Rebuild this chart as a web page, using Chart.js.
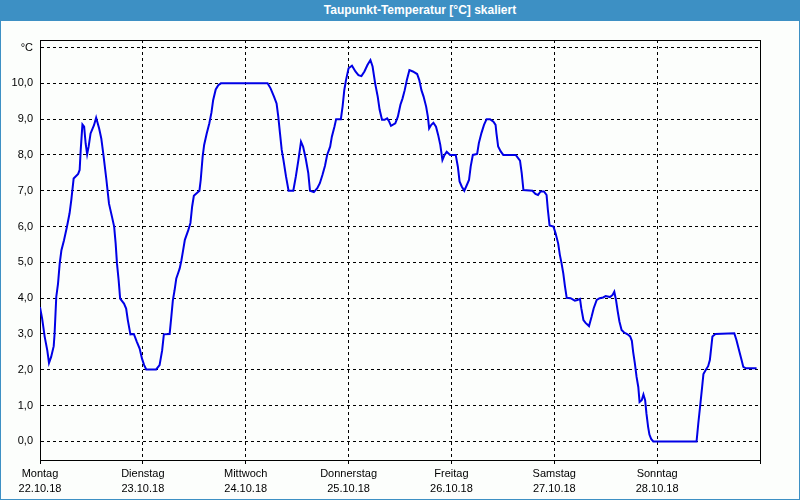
<!DOCTYPE html>
<html>
<head>
<meta charset="utf-8">
<script src="https://cdn.jsdelivr.net/npm/chart.js"></script>
<style>
  body { margin: 0; background: #fcfefc; }
  #wrap { position: relative; width: 800px; height: 500px; }
  #title {
    position: absolute; left: 0; top: 0; width: 760px; height: 21px; padding-left: 40px;
    background: #3d90c4; color: #fff; text-align: center;
    font: bold 12px "Liberation Sans", Arial, sans-serif; line-height: 21px;
  }
  #frame {
    position: absolute; left: 0; top: 0; width: 800px; height: 500px;
    box-sizing: border-box; border: 1px solid #3d90c4; border-top: none; pointer-events: none;
  }
</style>
</head>
<body>
<div id="wrap">
  <canvas id="taupunkt" width="800" height="500"></canvas>
  <div id="title">Taupunkt-Temperatur [°C] skaliert</div>
  <div id="frame"></div>
</div>
<script>
// Stunden seit Montag 00:00
const hours = [
  0, 0.5, 1.1, 1.7, 2.1, 2.6, 3.2, 3.4, 3.8, 4.2, 4.6, 5.0, 5.6, 6.3, 6.9, 7.3, 7.85, 8.9, 9.25, 9.5,
  9.9, 10.3, 10.65, 11.0, 11.35, 11.8, 12.6, 13.1, 13.8, 14.3, 14.8, 15.5, 16.1, 16.8, 17.3, 17.65, 17.96, 18.35, 18.7, 19.6,
  20.1, 20.5, 21.1, 21.9, 22.6, 23.25, 23.8, 24.3, 24.8, 27.1, 27.9, 28.5, 28.9, 30.25, 30.6, 31.0, 31.4, 31.8, 32.2, 32.6,
  33.0, 33.4, 33.8, 34.6, 35.1, 35.5, 35.9, 37.2, 37.5, 37.95, 38.3, 38.9, 39.5, 40.0, 40.4, 41.0, 41.6, 42.2, 53.1, 53.8,
  54.6, 55.2, 55.6, 56.0, 56.4, 56.8, 57.4, 58.0, 59.1, 59.7, 60.3, 60.9, 61.4, 62.0, 62.6, 63.0, 63.9, 64.7, 65.3, 65.9,
  66.5, 67.0, 67.7, 68.1, 68.7, 69.1, 70.2, 70.6, 71.0, 71.4, 72.0, 72.8, 73.6, 74.3, 75.0, 75.7, 76.4, 77.1, 77.6, 78.2,
  78.8, 79.25, 79.8, 80.4, 81.0, 81.4, 81.9, 82.9, 83.5, 84.1, 84.6, 85.1, 85.6, 86.2, 87.0, 88.0, 88.5, 89.0, 89.5, 90.1,
  90.5, 90.8, 91.3, 91.8, 92.4, 92.9, 93.4, 93.9, 94.4, 94.9, 95.7, 97.0, 97.5, 97.9, 98.4, 99.0, 99.6, 100.1, 100.5, 101.0,
  102.0, 102.4, 103.0, 103.6, 104.2, 105.0, 105.8, 106.3, 106.5, 106.9, 107.5, 108.1, 111.0, 112.0, 112.4, 112.8, 114.9, 115.6, 116.2, 116.8,
  117.6, 118.2, 118.5, 118.9, 119.8, 120.3, 120.9, 121.3, 121.7, 122.1, 122.5, 122.9, 123.8, 124.8, 125.4, 126.0, 126.3, 126.8, 127.3, 128.1,
  128.7, 129.2, 129.9, 130.6, 131.4, 132.0, 133.0, 133.6, 134.0, 134.4, 134.8, 135.2, 135.7, 136.3, 137.1, 137.7, 138.1, 138.4, 138.8, 139.2,
  139.6, 139.9, 140.4, 140.8, 141.2, 141.5, 141.9, 142.2, 142.6, 143.1, 153.2, 153.6, 154.1, 154.5, 154.8, 155.4, 155.9, 156.3, 156.6, 156.9,
  157.6, 162.0, 162.5, 163.2, 163.7, 164.1, 164.7, 167.2
];
const taupunkt = [
  3.75, 3.43, 2.92, 2.54, 2.19, 2.36, 2.66, 3.0, 4.04, 4.4, 4.97, 5.34, 5.62, 6.0, 6.37, 6.74, 7.34, 7.47, 7.58, 8.14,
  8.85, 8.79, 8.32, 8.02, 8.23, 8.6, 8.83, 9.04, 8.74, 8.46, 8.0, 7.3, 6.64, 6.27, 6.0, 5.53, 4.97, 4.5, 3.99, 3.85,
  3.71, 3.38, 2.99, 3.0, 2.78, 2.59, 2.31, 2.13, 2.01, 2.01, 2.13, 2.54, 2.99, 3.0, 3.43, 3.94, 4.22, 4.55, 4.69, 4.83,
  5.06, 5.34, 5.63, 5.9, 6.1, 6.56, 6.86, 7.0, 7.3, 7.95, 8.28, 8.6, 8.88, 9.18, 9.53, 9.83, 9.95, 10.0, 10.0, 9.86,
  9.63, 9.44, 9.07, 8.6, 8.14, 7.86, 7.4, 7.0, 7.0, 7.4, 7.86, 8.37, 8.23, 7.9, 7.49, 7.0, 6.96, 7.07, 7.21, 7.44,
  7.7, 8.0, 8.23, 8.51, 8.79, 9.0, 9.0, 9.35, 9.81, 10.09, 10.42, 10.49, 10.33, 10.23, 10.2, 10.33, 10.51, 10.65, 10.47, 10.0,
  9.63, 9.26, 8.98, 8.98, 9.02, 8.95, 8.81, 8.88, 9.07, 9.4, 9.58, 9.81, 10.09, 10.37, 10.33, 10.26, 10.09, 9.81, 9.63, 9.35,
  9.07, 8.74, 8.84, 8.9, 8.79, 8.56, 8.28, 7.86, 8.0, 8.09, 8.0, 8.0, 7.67, 7.26, 7.12, 7.0, 7.16, 7.3, 7.68, 8.0,
  8.03, 8.33, 8.61, 8.84, 9.0, 9.0, 8.93, 8.84, 8.61, 8.24, 8.1, 8.0, 8.0, 7.84, 7.49, 7.02, 7.0, 6.91, 6.88, 6.98,
  6.98, 6.88, 6.47, 6.03, 6.0, 5.81, 5.53, 5.21, 4.97, 4.69, 4.32, 4.01, 4.0, 3.93, 3.95, 3.98, 3.72, 3.39, 3.31, 3.22,
  3.48, 3.72, 3.95, 4.0, 4.02, 4.06, 4.03, 4.09, 4.18, 3.95, 3.63, 3.35, 3.11, 3.04, 2.99, 2.93, 2.81, 2.5, 2.18, 1.8,
  1.52, 1.1, 1.15, 1.31, 1.15, 0.78, 0.4, 0.19, 0.07, 0.0, 0.0, 0.5, 1.06, 1.52, 1.88, 2.01, 2.1, 2.27, 2.6, 2.93,
  3.0, 3.02, 2.83, 2.5, 2.27, 2.08, 2.04, 2.04
];
const dayNames = ["Montag", "Dienstag", "Mittwoch", "Donnerstag", "Freitag", "Samstag", "Sonntag"];
const dates = ["22.10.18", "23.10.18", "24.10.18", "25.10.18", "26.10.18", "27.10.18", "28.10.18"];
const yTicks = [0, 1, 2, 3, 4, 5, 6, 7, 8, 9, 10, 11];

// Rahmen oben und rechts
const frame = {
  id: "frame",
  beforeDatasetsDraw(chart) {
    const a = chart.chartArea, ctx = chart.ctx;
    ctx.save();
    ctx.strokeStyle = "#000";
    ctx.lineWidth = 1;
    ctx.strokeRect(a.left + 0.5, a.top + 0.5, a.right - a.left, a.bottom - a.top);
    ctx.restore();
  }
};

const font = { family: "'Liberation Sans', Arial, sans-serif", size: 11 };

new Chart(document.getElementById("taupunkt"), {
  type: "line",
  data: {
    datasets: [{
      data: hours.map((h, i) => ({ x: h, y: taupunkt[i] })),
      borderColor: "#0000e6",
      borderWidth: 2,
      pointRadius: 0,
      tension: 0,
      fill: false
    }]
  },
  options: {
    responsive: false,
    animation: false,
    layout: { padding: { top: 40, right: 40, left: 0, bottom: 0 } },
    plugins: { legend: { display: false }, tooltip: { enabled: false } },
    scales: {
      x: {
        type: "linear",
        min: 0,
        max: 168,
        afterBuildTicks: s => { s.ticks = [0, 24, 48, 72, 96, 120, 144, 168].map(v => ({ value: v })); },
        afterFit: s => { s.height = 40; },
        grid: { color: "#000", lineWidth: 1, tickLength: 4, tickColor: "#000" },
        border: { color: "#000", width: 1, dash: [3, 3] },
        ticks: {
          color: "#000",
          font: { ...font, lineHeight: 15 / 11 },
          padding: 2,
          maxRotation: 0,
          autoSkip: false,
          callback: (v) => { const i = v / 24; return i < 7 ? [dayNames[i], dates[i]] : ""; }
        }
      },
      y: {
        min: -0.52,
        max: 11.21,
        afterBuildTicks: s => { s.ticks = yTicks.map(v => ({ value: v })); },
        afterFit: s => { s.width = 40; },
        grid: { color: "#000", lineWidth: 1, drawTicks: false },
        border: { color: "#000", width: 1, dash: [3, 3] },
        ticks: {
          color: "#000",
          font: font,
          padding: 7,
          callback: v => v === 11 ? "°C" : v.toFixed(1).replace(".", ",")
        }
      }
    }
  },
  plugins: [frame]
});
</script>
</body>
</html>
